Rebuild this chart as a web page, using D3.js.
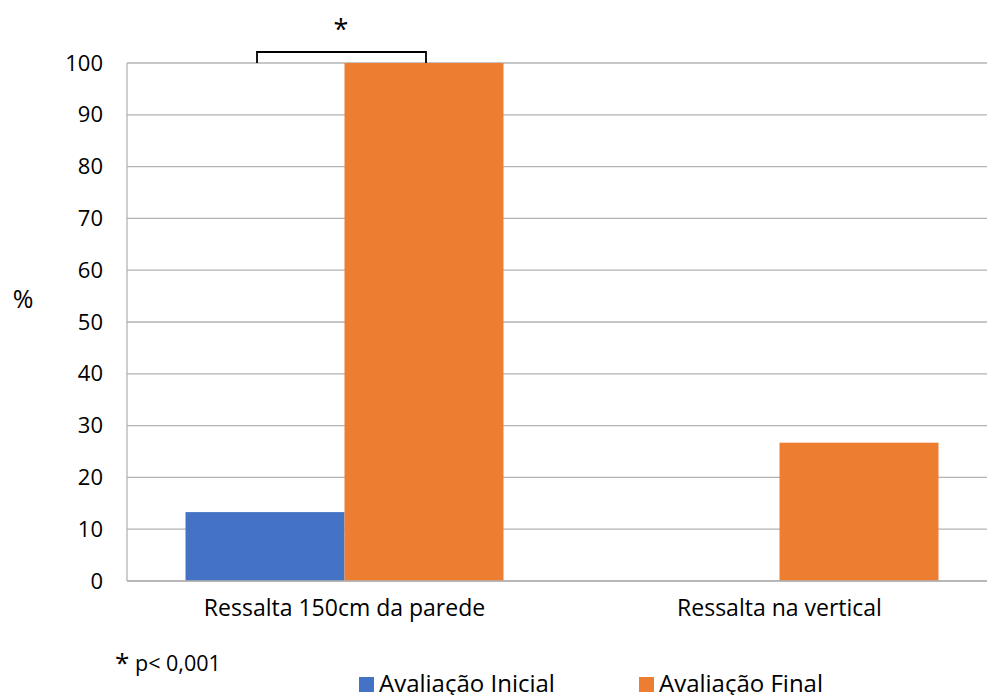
<!DOCTYPE html>
<html>
<head>
<meta charset="utf-8">
<script src="https://cdn.jsdelivr.net/npm/d3@7"></script>
<style>
  body { margin: 0; background: #fff; }
  svg { font-family: "Open Sans", "Noto Sans", sans-serif; }
</style>
</head>
<body>
<svg id="chart" width="987" height="695"></svg>
<script>
// Chart data
const categories = ["Ressalta 150cm da parede", "Ressalta na vertical"];
const seriesNames = ["Avaliação Inicial", "Avaliação Final"];
const inicialValues = [13.3, 0];
const finalValues = [100, 26.7];
const yTicks = [0, 10, 20, 30, 40, 50, 60, 70, 80, 90, 100];
const colors = ["#4472C4", "#ED7D31"];

const svg = d3.select("#chart");
const plotLeft = 127, plotRight = 997, plotTop = 63, plotBottom = 581;

const x = d3.scaleBand().domain(categories).range([plotLeft, plotRight]).paddingInner(0).paddingOuter(0);
const xs = d3.scaleBand().domain(seriesNames).range([0, x.bandwidth()]).paddingOuter(0.368).paddingInner(0);
const y = d3.scaleLinear().domain([0, 100]).range([plotBottom, plotTop]);

// gridlines
svg.append("g").selectAll("line").data(yTicks).join("line")
  .attr("x1", plotLeft).attr("x2", 987)
  .attr("y1", d => y(d)).attr("y2", d => y(d))
  .attr("stroke", "#b3b3b3").attr("stroke-width", 1.3);

// left axis line
svg.append("line").attr("x1", plotLeft).attr("x2", plotLeft).attr("y1", plotTop).attr("y2", plotBottom)
  .attr("stroke", "#b3b3b3").attr("stroke-width", 1.3);

// y tick labels
const yAxis = d3.axisLeft(y).tickValues(yTicks).tickSize(0).tickPadding(24);
const ya = svg.append("g").attr("transform", `translate(${plotLeft},0)`).call(yAxis);
ya.select(".domain").remove();
ya.selectAll("text").attr("font-size", 22).attr("fill", "#000").attr("font-family", "Open Sans, sans-serif");

// bars
const rows = categories.map((c, i) => ({ cat: c, vals: [inicialValues[i], finalValues[i]] }));
const groups = svg.append("g").selectAll("g").data(rows).join("g")
  .attr("transform", d => `translate(${x(d.cat)},0)`);
groups.selectAll("rect").data(d => d.vals.map((v, j) => ({ s: seriesNames[j], v, j })))
  .join("rect")
  .attr("x", d => xs(d.s)).attr("width", xs.bandwidth())
  .attr("y", d => y(d.v)).attr("height", d => y(0) - y(d.v))
  .attr("fill", d => colors[d.j]);

// category labels
const xa = svg.append("g").attr("transform", `translate(0,${plotBottom})`)
  .call(d3.axisBottom(x).tickSize(0).tickPadding(19));
xa.select(".domain").attr("stroke", "#b3b3b3").attr("stroke-width", 1.3)
  .attr("d", `M${plotLeft},0H987`);
xa.selectAll("text").attr("font-size", 23).attr("fill", "#000").attr("font-family", "Open Sans, sans-serif");

// y axis title
svg.append("text").attr("x", 23).attr("y", 308).attr("text-anchor", "middle")
  .attr("font-size", 25).text("%");

// significance bracket
const bx1 = 257, bx2 = 426;
svg.append("path")
  .attr("d", `M${bx1},${y(100)}V${y(100) - 11}H${bx2}V${y(100)}`)
  .attr("fill", "none").attr("stroke", "#000").attr("stroke-width", 1.8);
svg.append("text").attr("x", 341).attr("y", 39).attr("text-anchor", "middle")
  .attr("font-size", 27).text("*");

// p value note
svg.append("text").attr("x", 115).attr("y", 672).attr("font-size", 26).text("*");
svg.append("text").attr("x", 135).attr("y", 671).attr("font-size", 21.5).text("p< 0,001");

// legend
const legendX = [359, 639];
seriesNames.forEach((s, i) => {
  svg.append("rect").attr("x", legendX[i]).attr("y", 677).attr("width", 15).attr("height", 15).attr("fill", colors[i]);
  svg.append("text").attr("x", legendX[i] + 20).attr("y", 692).attr("font-size", 24).text(s);
});
</script>
</body>
</html>
